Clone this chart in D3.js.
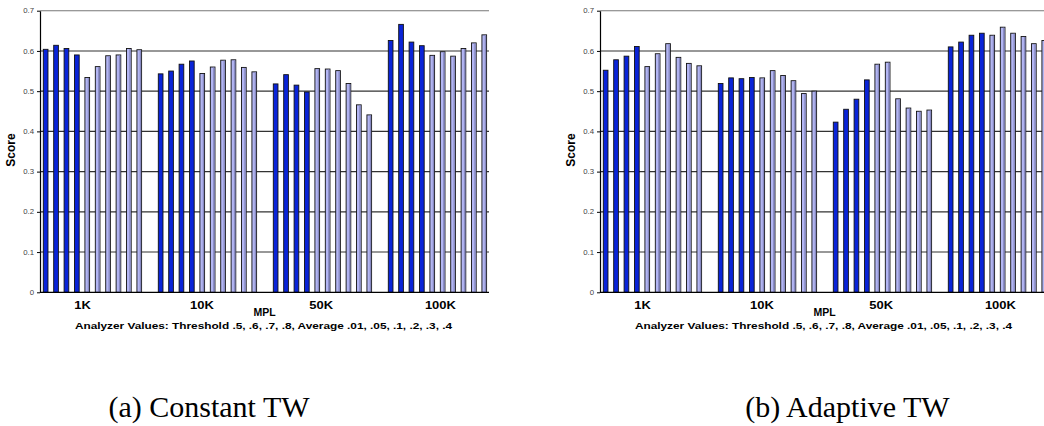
<!DOCTYPE html>
<html><head><meta charset="utf-8">
<script src="https://cdn.jsdelivr.net/npm/d3@7"></script>
<style>html,body{margin:0;padding:0;background:#fff;}svg{display:block;}</style>
</head><body>
<svg id="c" width="1044" height="426"></svg>
<script>
// ---- data ----
const categories = ["1K", "10K", "50K", "100K"];
const analyzerValues = ["Threshold .5", "Threshold .6", "Threshold .7", "Threshold .8",
  "Average .01", "Average .05", "Average .1", "Average .2", "Average .3", "Average .4"];
const thresholdCount = 4;
const constantTW = [
  [0.604, 0.614, 0.606, 0.590, 0.534, 0.561, 0.588, 0.590, 0.606, 0.603],
  [0.543, 0.550, 0.567, 0.575, 0.544, 0.560, 0.577, 0.578, 0.559, 0.548],
  [0.518, 0.541, 0.515, 0.498, 0.556, 0.555, 0.551, 0.519, 0.466, 0.441],
  [0.626, 0.666, 0.622, 0.613, 0.589, 0.598, 0.587, 0.606, 0.620, 0.640]
];
const adaptiveTW = [
  [0.552, 0.578, 0.587, 0.611, 0.561, 0.593, 0.618, 0.584, 0.569, 0.563],
  [0.519, 0.533, 0.531, 0.534, 0.533, 0.551, 0.539, 0.526, 0.494, 0.500],
  [0.423, 0.455, 0.480, 0.528, 0.567, 0.572, 0.481, 0.458, 0.450, 0.453],
  [0.610, 0.622, 0.639, 0.644, 0.639, 0.659, 0.644, 0.636, 0.618, 0.626]
];
const yTicks = [0, 0.1, 0.2, 0.3, 0.4, 0.5, 0.6, 0.7];
const captions = ["(a) Constant TW", "(b) Adaptive TW"];
const yAxisTitle = "Score";
const xAxisTitle = "MPL";
const xAxisSubtitle = "Analyzer Values: Threshold .5, .6, .7, .8, Average .01, .05, .1, .2, .3, .4";

// ---- drawing ----
const svg = d3.select("#c");
const SANS = "'Liberation Sans', Arial, Helvetica, sans-serif";

function panel(ox, data, caption, capX) {
  const g = svg.append("g").attr("transform", `translate(${ox},0)`);
  const left = 40, right = 489, top = 10.7, bottom = 292.3;
  const y = d3.scaleLinear().domain([0, 0.7]).range([bottom, top]);
  const xg = d3.scaleBand().domain(categories).range([left + 3.3, left + 3.3 + 460]);
  const xi = d3.scaleBand().domain(d3.range(analyzerValues.length)).range([0, 98.3]).paddingInner(0.55);
  const xl = d3.scaleBand().domain(categories).range([left - 17, left - 17 + 477]);

  // gridlines
  g.append("g").selectAll("line").data(yTicks.filter(d => d > 0)).join("line")
    .attr("x1", left).attr("x2", right)
    .attr("y1", d => y(d)).attr("y2", d => y(d))
    .attr("stroke", d => d === 0.7 ? "#777" : "#333").attr("stroke-width", 1.1);

  // bars
  const flat = [];
  data.forEach((row, ci) => row.forEach((v, si) => flat.push({cat: categories[ci], si, v})));
  const bars = g.append("g");
  bars.selectAll("rect.bar").data(flat).join("rect").attr("class", "bar")
    .attr("x", d => xg(d.cat) + xi(d.si))
    .attr("y", d => y(d.v))
    .attr("width", xi.bandwidth())
    .attr("height", d => bottom - y(d.v))
    .attr("fill", d => d.si < thresholdCount ? "#0a24d8" : "#b3b6f3")
    .attr("stroke", "#111").attr("stroke-width", 0.9);
  bars.selectAll("rect.shade").data(flat.filter(d => d.si >= thresholdCount)).join("rect").attr("class", "shade")
    .attr("x", d => xg(d.cat) + xi(d.si) + xi.bandwidth() - 1.9)
    .attr("y", d => y(d.v) + 0.5)
    .attr("width", 1.4)
    .attr("height", d => bottom - y(d.v) - 0.5)
    .attr("fill", "#8789c2");

  // y axis
  const ax = g.append("g").attr("transform", `translate(${left},0)`)
    .call(d3.axisLeft(y).tickValues(yTicks).tickSize(3).tickSizeOuter(0).tickPadding(2)
      .tickFormat(d => d === 0 ? "0" : d.toFixed(1)));
  ax.select(".domain").attr("stroke", "#000").attr("stroke-width", 1.2);
  ax.selectAll(".tick line").attr("stroke", "#000");
  ax.selectAll(".tick text").attr("font-family", SANS).attr("font-size", 6.5)
    .attr("fill", "#444").attr("transform", "scale(1.2,1)");

  // x axis baseline
  g.append("line").attr("x1", left).attr("x2", right).attr("y1", bottom).attr("y2", bottom)
    .attr("stroke", "#000").attr("stroke-width", 1.2);

  // category labels
  const axb = g.append("g").attr("transform", `translate(0,${bottom})`)
    .call(d3.axisBottom(xl).tickSize(0).tickPadding(8.8));
  axb.select(".domain").remove();
  axb.selectAll(".tick text").attr("font-family", SANS).attr("font-size", 11)
    .attr("font-weight", "bold").attr("fill", "#000").attr("transform", "scale(1.18,1)");

  // titles
  g.append("text").attr("transform", `translate(14.5,150) rotate(-90)`)
    .attr("text-anchor", "middle").attr("font-family", SANS).attr("font-size", 12)
    .attr("font-weight", "bold").text(yAxisTitle);
  g.append("text").attr("transform", `translate(${(left + right) / 2},316) scale(1.05,1)`)
    .attr("text-anchor", "middle").attr("font-family", SANS).attr("font-size", 10)
    .attr("font-weight", "bold").text(xAxisTitle);
  g.append("text").attr("transform", `translate(${(left + right) / 2 - 1},329) scale(1.22,1)`)
    .attr("text-anchor", "middle").attr("font-family", SANS).attr("font-size", 9.7)
    .attr("font-weight", "bold").text(xAxisSubtitle);

  // caption
  svg.append("text").attr("x", capX).attr("y", 417).attr("text-anchor", "middle")
    .attr("font-family", "'Liberation Serif', 'Times New Roman', serif").attr("font-size", 30)
    .attr("fill", "#000").text(caption);
}

panel(0, constantTW, captions[0], 209);
panel(560, adaptiveTW, captions[1], 847.5);
</script>
</body></html>
